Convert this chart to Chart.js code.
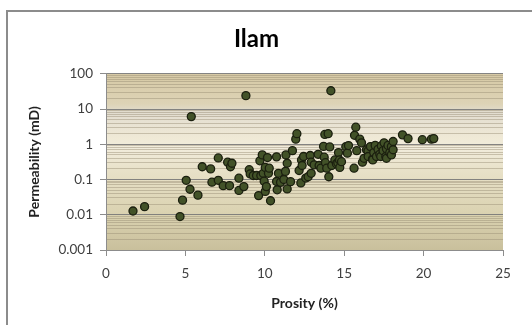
<!DOCTYPE html>
<html>
<head>
<meta charset="utf-8">
<script src="https://cdn.jsdelivr.net/npm/chart.js@4"></script>
<style>
  body { margin: 0; background: #fff; }
  canvas { display: block; }
</style>
</head>
<body>
<canvas id="main-graph" width="532" height="325"></canvas>
<script>
const porosity = [
  1.7, 2.43, 4.66, 4.82, 5.05, 5.29, 5.37, 5.79, 6.06, 6.59, 6.67, 7.07, 7.07, 7.38,
  7.66, 7.78, 7.84, 7.93, 8.37, 8.37, 8.68, 8.81, 9.02, 9.08, 9.27, 9.48, 9.61, 9.69,
  9.75, 9.84, 9.9, 9.96, 10.03, 10.03, 10.1, 10.17, 10.23, 10.28, 10.36, 10.74, 10.74,
  10.78, 10.86, 10.99, 11.2, 11.3, 11.33, 11.41, 11.41, 11.62, 11.74, 11.95, 12.02,
  12.16, 12.27, 12.31, 12.35, 12.44, 12.58, 12.73, 12.86, 12.92, 12.92, 13.11, 13.36,
  13.42, 13.53, 13.7, 13.74, 13.78, 13.82, 13.9, 13.99, 14.03, 14.09, 14.16, 14.22,
  14.41, 14.51, 14.6, 14.64, 14.7, 14.72, 14.83, 15.1, 15.2, 15.27, 15.62, 15.65,
  15.73, 15.79, 15.98, 16.09, 16.15, 16.25, 16.4, 16.5, 16.51, 16.65, 16.78, 16.8,
  16.86, 16.95, 17.03, 17.13, 17.24, 17.3, 17.34, 17.45, 17.51, 17.62, 17.66, 17.66,
  17.76, 17.87, 17.97, 17.97, 18.08, 18.08, 18.67, 19.02, 19.92, 20.49, 20.64
];
const permeability = [
  0.0128, 0.017, 0.0089, 0.026, 0.095, 0.053, 6.1, 0.036, 0.23, 0.2, 0.084, 0.41, 0.095, 0.067,
  0.31, 0.067, 0.23, 0.29, 0.109, 0.049, 0.063, 24, 0.19, 0.144, 0.13, 0.13, 0.035, 0.34,
  0.13, 0.5, 0.15, 0.09, 0.22, 0.046, 0.063, 0.42, 0.15, 0.21, 0.025, 0.44, 0.088,
  0.051, 0.15, 0.083, 0.1, 0.17, 0.5, 0.29, 0.054, 0.087, 0.66, 1.4, 2.0,
  0.18, 0.08, 0.36, 0.25, 0.45, 0.11, 0.12, 0.48, 0.15, 0.31, 0.26, 0.52,
  0.25, 0.21, 0.87, 0.43, 1.9, 0.3, 0.21, 2.0, 0.12, 0.84, 33, 0.25,
  0.36, 0.28, 0.3, 0.58, 0.36, 0.22, 0.32, 0.85, 0.56, 0.92, 0.21, 1.8,
  3.05, 0.66, 1.4, 1.1, 0.31, 0.4, 0.7, 0.64, 0.45, 0.86, 0.38, 0.36,
  0.58, 0.93, 0.45, 0.72, 0.52, 0.45, 0.9, 0.66, 1.1, 0.45, 0.75, 0.4,
  0.93, 0.58, 0.86, 0.5, 1.2, 0.7, 1.85, 1.45, 1.35, 1.4, 1.45
];
const xTicks = [0, 5, 10, 15, 20, 25];
const yTicks = [0.001, 0.01, 0.1, 1, 10, 100];

const points = porosity.map((x, i) => ({ x: x, y: permeability[i] }));
const fontFamily = "Lato, 'Liberation Sans', sans-serif";

// plot area gradient + outer chart border
const backdrop = {
  id: "backdrop",
  beforeDraw(chart) {
    const { ctx, chartArea: a } = chart;
    ctx.save();
    ctx.strokeStyle = "#8c8c8c";
    ctx.lineWidth = 2;
    ctx.strokeRect(7, 11, 600, 400);
    const g = ctx.createLinearGradient(0, a.top, 0, a.bottom);
    g.addColorStop(0, "#d6c9a5");
    g.addColorStop(0.17, "#ddd3b6");
    g.addColorStop(0.22, "#e2ddd0");
    g.addColorStop(0.36, "#efe9d6");
    g.addColorStop(0.42, "#f1ecdc");
    g.addColorStop(0.55, "#e8e1c8");
    g.addColorStop(0.78, "#dbd3b2");
    g.addColorStop(1, "#c9c09c");
    ctx.fillStyle = g;
    ctx.fillRect(a.left, a.top, a.right - a.left, a.bottom - a.top);
    ctx.restore();
  },
};

const isMajor = (v) => yTicks.some((t) => Math.abs(t - v) < t * 1e-6);

new Chart(document.getElementById("main-graph"), {
  type: "scatter",
  data: {
    datasets: [
      {
        label: "Ilam",
        data: points,
        pointRadius: 4,
        pointBackgroundColor: "#425228",
        pointBorderColor: "#1b1f0f",
        pointBorderWidth: 1.3,
      },
    ],
  },
  options: {
    responsive: false,
    animation: false,
    layout: { padding: { left: 10, right: 29, top: 10, bottom: 0 } },
    plugins: {
      legend: { display: false },
      tooltip: { enabled: false },
      title: {
        display: true,
        text: "Ilam",
        color: "#000",
        font: { family: fontFamily, size: 24, weight: "bold" },
        padding: { top: 15, bottom: 20 },
      },
    },
    scales: {
      x: {
        type: "linear",
        min: 0,
        max: 25,
        afterBuildTicks(scale) {
          scale.ticks = xTicks.map((v) => ({ value: v }));
        },
        afterFit(scale) {
          scale.height = 75;
        },
        grid: { drawOnChartArea: false, tickLength: 6, tickColor: "#8c8c8c" },
        border: { color: "#8c8c8c" },
        ticks: {
          color: "#404040",
          padding: 10,
          font: { family: fontFamily, size: 13.5 },
        },
        title: {
          display: true,
          text: "Prosity (%)",
          color: "#222",
          font: { family: fontFamily, size: 14, weight: "bold" },
          padding: { top: 0, bottom: 13 },
        },
      },
      y: {
        type: "logarithmic",
        min: 0.001,
        max: 100,
        afterBuildTicks(scale) {
          const t = [];
          for (let d = 0; d < yTicks.length - 1; d++) {
            for (let m = 1; m < 10; m++) t.push({ value: yTicks[d] * m });
          }
          t.push({ value: yTicks[yTicks.length - 1] });
          scale.ticks = t;
        },
        afterFit(scale) {
          scale.width = 96;
        },
        grid: {
          tickLength: 6,
          color: (c) =>
            isMajor(c.tick.value) ? "rgba(120,120,120,0.9)" : "rgba(150,140,115,0.45)",
          tickColor: (c) => (isMajor(c.tick.value) ? "#8c8c8c" : "rgba(0,0,0,0)"),
        },
        border: { color: "#8c8c8c" },
        ticks: {
          autoSkip: false,
          color: "#404040",
          padding: 7,
          font: { family: fontFamily, size: 13.5 },
          callback: (v) => {
            const hit = yTicks.find((t) => Math.abs(t - v) < t * 1e-6);
            return hit === undefined ? "" : String(hit);
          },
        },
        title: {
          display: true,
          text: "Permeability (mD)",
          color: "#222",
          font: { family: fontFamily, size: 14, weight: "bold" },
          padding: { top: 16, bottom: 0 },
        },
      },
    },
  },
  plugins: [backdrop],
});
</script>
</body>
</html>
